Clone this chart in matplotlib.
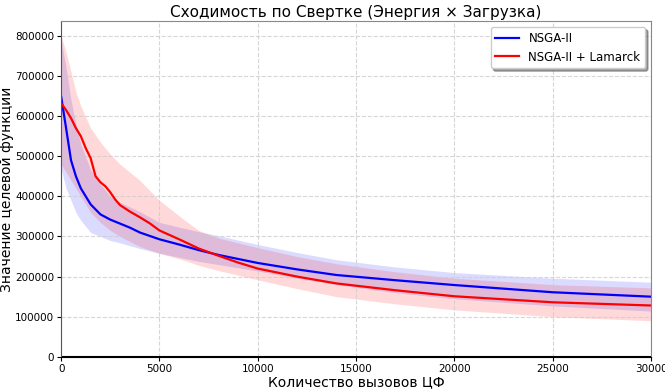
import numpy as np
import matplotlib
matplotlib.use('Agg')
import matplotlib.pyplot as plt

# Данные (оценены по картинке)
x_blue = [0, 250, 500, 750, 1000, 1500, 2000, 2500, 3000, 3500, 4000, 5000, 6000, 7000,
          8000, 10000, 12000, 14000, 17000, 20000, 25000, 30000]
mean_blue = [648000, 570000, 490000, 450000, 420000, 380000, 355000, 342000, 332000, 322000,
             310000, 293000, 280000, 266000, 254000, 234000, 218000, 204000, 191000, 179000,
             161000, 150000]

x_red = [0, 250, 500, 750, 1000, 1250, 1500, 1750, 2000, 2250, 2500, 2750, 3000, 3500, 4000,
         4500, 5000, 6000, 7000, 8000, 9000, 10000, 12000, 14000, 17000, 20000, 25000, 30000]
mean_red = [632000, 615000, 595000, 570000, 550000, 520000, 495000, 450000, 435000, 425000,
            410000, 392000, 378000, 362000, 348000, 333000, 315000, 293000, 270000, 252000,
            235000, 220000, 200000, 183000, 166000, 151000, 136000, 128000]

x_band = [0, 250, 500, 750, 1000, 1500, 2000, 2500, 3000, 4000, 5000, 6300, 7000, 8000,
          10000, 12000, 14000, 17000, 20000, 25000, 30000]
upper_blue = [790000, 720000, 640000, 580000, 530000, 466000, 430000, 400000, 385000, 362000,
              335000, 320000, 312000, 302000, 280000, 260000, 242000, 224000, 210000, 196000,
              186000]
lower_blue = [468000, 420000, 390000, 360000, 340000, 310000, 300000, 290000, 284000, 270000,
              258000, 245000, 238000, 230000, 214000, 196000, 180000, 160000, 145000, 127000,
              114000]
upper_red = [800000, 760000, 710000, 660000, 625000, 570000, 535000, 505000, 480000, 440000,
             390000, 340000, 315000, 296000, 272000, 250000, 232000, 212000, 196000, 180000,
             172000]
lower_red = [480000, 460000, 440000, 420000, 400000, 360000, 335000, 315000, 300000, 275000,
             258000, 240000, 228000, 215000, 192000, 170000, 150000, 132000, 117000, 100000,
             90000]

fig, ax = plt.subplots(figsize=(6.65, 3.9), dpi=100)

ax.fill_between(x_band, lower_blue, upper_blue, color='blue', alpha=0.14, linewidth=0)
ax.fill_between(x_band, lower_red, upper_red, color='red', alpha=0.15, linewidth=0)
ax.plot(x_blue, mean_blue, color='blue', linewidth=1.6, label='NSGA-II')
ax.plot(x_red, mean_red, color='red', linewidth=1.6, label='NSGA-II + Lamarck')

ax.set_xlim(0, 30000)
ax.set_ylim(0, 837000)
ax.axhline(0, color='black', linewidth=1.5)
ax.grid(True, linestyle='--', color='#cccccc', alpha=0.8, linewidth=0.8)

for s in ['top', 'right']:
    ax.spines[s].set_color('#888888')
ax.spines['left'].set_color('#555555')

ax.tick_params(labelsize=7.5, length=3, pad=2)
ax.set_title('Сходимость по Свертке (Энергия × Загрузка)', fontsize=11, pad=3)
ax.set_xlabel('Количество вызовов ЦФ', fontsize=10, labelpad=1)
ax.set_ylabel('Значение целевой функции', fontsize=10, labelpad=1)
ax.legend(loc='upper right', fontsize=8.5, shadow=True, fancybox=True)

fig.subplots_adjust(left=0.092, right=0.979, top=0.946, bottom=0.085)
fig.savefig('out.png', dpi=100)
